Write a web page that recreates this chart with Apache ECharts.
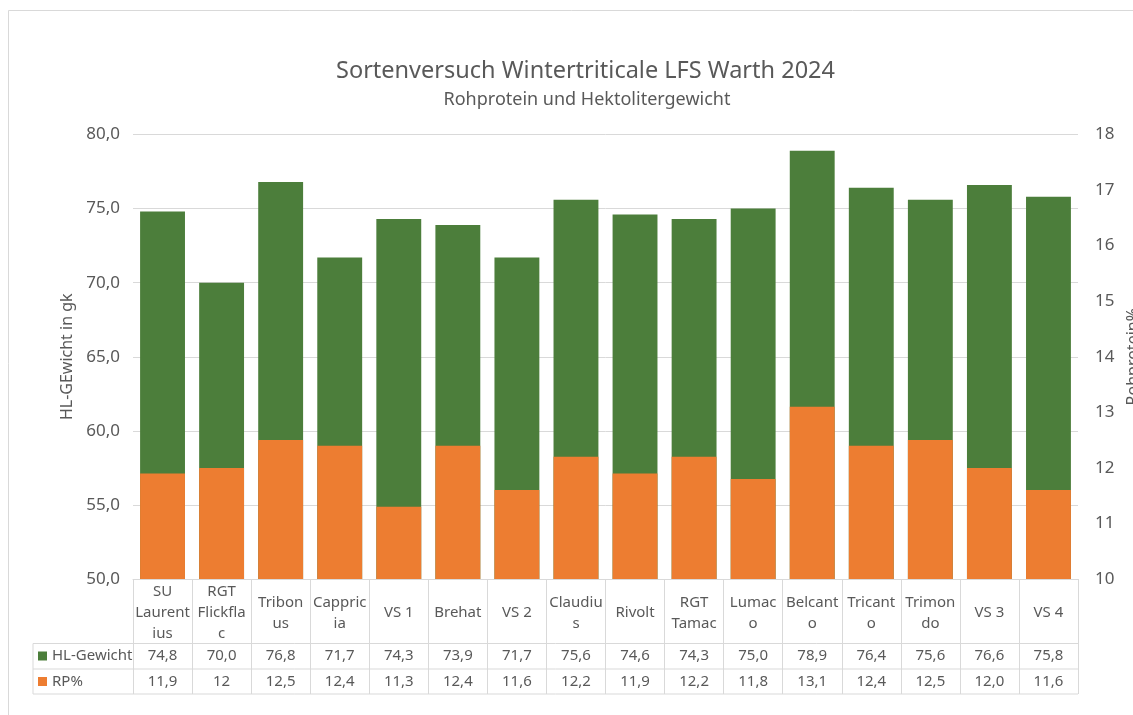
<!DOCTYPE html>
<html>
<head>
<meta charset="utf-8">
<script src="https://cdn.jsdelivr.net/npm/echarts@6/dist/echarts.min.js"></script>
<style>
html,body{margin:0;padding:0;background:#fff;}
#chart{width:1133px;height:715px;}
</style>
</head>
<body>
<div id="chart"></div>
<script>
// ---- data ----
const categories = ['SU\nLaurent\nius','RGT\nFlickfla\nc','Tribon\nus','Cappric\nia','VS 1','Brehat','VS 2','Claudiu\ns','Rivolt','RGT\nTamac','Lumac\no','Belcant\no','Tricant\no','Trimon\ndo','VS 3','VS 4'];
const hlGewicht = [74.8,70.0,76.8,71.7,74.3,73.9,71.7,75.6,74.6,74.3,75.0,78.9,76.4,75.6,76.6,75.8];
const rpPercent = [11.9,12,12.5,12.4,11.3,12.4,11.6,12.2,11.9,12.2,11.8,13.1,12.4,12.5,12.0,11.6];
const hlLabels = ['74,8','70,0','76,8','71,7','74,3','73,9','71,7','75,6','74,6','74,3','75,0','78,9','76,4','75,6','76,6','75,8'];
const rpLabels = ['11,9','12','12,5','12,4','11,3','12,4','11,6','12,2','11,9','12,2','11,8','13,1','12,4','12,5','12,0','11,6'];
const leftTicks = {min:50, max:80, interval:5};
const rightTicks = {min:10, max:18, interval:1};

const FONT = 'Noto Sans';
const GREEN = '#4c7e3b';
const ORANGE = '#ed7d31';
const TXT = '#595959';
const LINE = '#d9d9d9';

const chart = echarts.init(document.getElementById('chart'), null, {renderer:'canvas'});

const gridLeft = 133, gridRight = 1078, gridTop = 134.5, gridBottomY = 579;
const rowLines = [643.5, 669, 694];

const graphics = [
  {type:'rect', shape:{x:8.5,y:10.5,width:1200,height:800}, style:{fill:'none', stroke:LINE, lineWidth:1}, silent:true}
];
rowLines.forEach(y => graphics.push({type:'line', shape:{x1:33, y1:y, x2:gridRight, y2:y}, style:{stroke:LINE, lineWidth:1}, silent:true}));
graphics.push({type:'line', shape:{x1:33, y1:rowLines[0], x2:33, y2:rowLines[2]}, style:{stroke:LINE, lineWidth:1}, silent:true});

const option = {
  backgroundColor:'#fff',
  animation:false,
  textStyle:{fontFamily:FONT},
  title:[
    {text:'Sortenversuch Wintertriticale LFS Warth 2024', left:585.5, top:59, textAlign:'center', padding:0,
     textStyle:{fontFamily:FONT, fontSize:23.5, fontWeight:'normal', color:TXT}},
    {text:'Rohprotein und Hektolitergewicht', left:587, top:91, textAlign:'center', padding:0,
     textStyle:{fontFamily:FONT, fontSize:18, fontWeight:'normal', color:TXT}}
  ],
  legend:{
    orient:'vertical', left:38, top:648, padding:0, itemGap:9.5, itemWidth:9, itemHeight:9,
    icon:'rect', selectedMode:false,
    textStyle:{fontFamily:FONT, fontSize:15, color:TXT, lineHeight:16, padding:[0,0,0,0]},
    data:['HL-Gewicht','RP%']
  },
  grid:{left:gridLeft, right:1133-gridRight, top:gridTop, bottom:715-gridBottomY, containLabel:false, outerBoundsMode:'none'},
  xAxis:[
    {type:'category', data:categories, position:'bottom',
     axisLine:{show:true, lineStyle:{color:LINE}},
     axisTick:{show:true, interval:0, length:rowLines[2]-gridBottomY, lineStyle:{color:LINE}},
     axisLabel:{interval:0, margin:34, verticalAlign:'middle', fontFamily:FONT, fontSize:15, lineHeight:21, color:TXT}},
    {type:'category', data:hlLabels, position:'bottom',
     axisLine:{show:false}, axisTick:{show:false},
     axisLabel:{interval:0, margin:77, verticalAlign:'middle', fontFamily:FONT, fontSize:15, color:TXT}},
    {type:'category', data:rpLabels, position:'bottom',
     axisLine:{show:false}, axisTick:{show:false},
     axisLabel:{interval:0, margin:103, verticalAlign:'middle', fontFamily:FONT, fontSize:15, color:TXT}}
  ],
  yAxis:[
    {type:'value', min:leftTicks.min, max:leftTicks.max, interval:leftTicks.interval, position:'left',
     name:'HL-GEwicht in gk', nameLocation:'middle', nameGap:48,
     nameTextStyle:{fontFamily:FONT, fontSize:16, color:TXT},
     axisLine:{show:false}, axisTick:{show:false},
     splitLine:{show:true, lineStyle:{color:LINE}},
     axisLabel:{margin:13, fontFamily:FONT, fontSize:17, color:TXT,
       formatter:v => v.toFixed(1).replace('.', ',')}},
    {type:'value', min:rightTicks.min, max:rightTicks.max, interval:rightTicks.interval, position:'right',
     name:'Rohprotein%', nameLocation:'middle', nameGap:45,
     nameTextStyle:{fontFamily:FONT, fontSize:16, color:TXT},
     axisLine:{show:false}, axisTick:{show:false}, splitLine:{show:false},
     axisLabel:{margin:17, fontFamily:FONT, fontSize:17, color:TXT}}
  ],
  series:[
    {name:'HL-Gewicht', type:'bar', xAxisIndex:0, yAxisIndex:0, data:hlGewicht,
     barCategoryGap:'24%', itemStyle:{color:GREEN}},
    {name:'RP%', type:'bar', xAxisIndex:0, yAxisIndex:1, data:rpPercent,
     barGap:'-100%', barCategoryGap:'24%', itemStyle:{color:ORANGE}}
  ],
  graphic:graphics
};
chart.setOption(option);
</script>
</body>
</html>
